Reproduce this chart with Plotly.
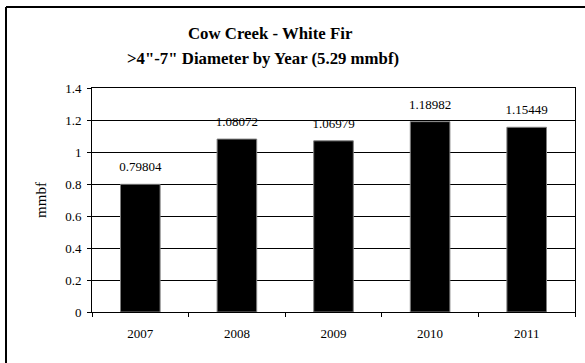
import plotly.graph_objects as go

years = ["2007", "2008", "2009", "2010", "2011"]
values = [0.79804, 1.08072, 1.06979, 1.18982, 1.15449]
labels = ["0.79804", "1.08072", "1.06979", "1.18982", "1.15449"]
y_ticks = [0, 0.2, 0.4, 0.6, 0.8, 1, 1.2, 1.4]
y_ticklabels = ["0", "0.2", "0.4", "0.6", "0.8", "1", "1.2", "1.4"]
title_lines = ["Cow Creek - White Fir", ">4\"-7\" Diameter by Year (5.29 mmbf)"]

W, H = 585, 363
L, R, T, B = 92, 10, 88, 51
pw = W - L - R
ph = H - T - B

serif = "Liberation Serif"

fig = go.Figure()
fig.add_trace(go.Bar(
    x=years, y=values,
    marker=dict(color="black", line=dict(color="#808080", width=1)),
    width=0.41, hoverinfo="skip",
))
fig.add_trace(go.Scatter(
    x=years, y=values, text=labels, mode="markers+text",
    textposition="top center",
    marker=dict(size=14, opacity=0),
    textfont=dict(family=serif, size=13, color="black"),
    cliponaxis=False, hoverinfo="skip",
))

title_pos = [(270, 33), (263, 58)]
annotations = [
    dict(text="<b>" + t.replace(">", "&gt;") + "</b>", xref="paper", yref="paper",
         x=(px - L) / pw, y=(H - B - py) / ph, xanchor="center", yanchor="middle",
         showarrow=False, font=dict(family=serif, size=16.8, color="black"))
    for t, (px, py) in zip(title_lines, title_pos)
]

fig.update_layout(
    width=W, height=H,
    margin=dict(l=L, r=R, t=T, b=B, autoexpand=False),
    paper_bgcolor="white", plot_bgcolor="white",
    showlegend=False,
    font=dict(family=serif, color="black"),
    annotations=annotations,
    xaxis=dict(
        type="category", showline=True, linecolor="black", linewidth=1, mirror=True,
        ticks="outside", tickson="boundaries", ticklen=4, tickcolor="black",
        tickfont=dict(family=serif, size=13, color="black"),
        ticklabelstandoff=9, tickangle=0,
        showgrid=False,
    ),
    yaxis=dict(
        range=[0, 1.4], tickvals=y_ticks, ticktext=y_ticklabels,
        showline=True, linecolor="black", linewidth=1, mirror=True,
        ticks="outside", ticklen=4, tickcolor="black",
        tickfont=dict(family=serif, size=13, color="black"),
        ticklabelstandoff=3,
        showgrid=True, gridcolor="black", gridwidth=1,
        zeroline=False,
        title=dict(text="mmbf", font=dict(family=serif, size=15, color="black"), standoff=14),
    ),
    shapes=[
        dict(type="line", xref="paper", yref="paper",
             x0=(6 - L) / pw, x1=(W - L) / pw, y0=1 + (T - 7) / ph, y1=1 + (T - 7) / ph,
             line=dict(color="black", width=2), layer="below"),
        dict(type="line", xref="paper", yref="paper",
             x0=(6 - L) / pw, x1=(6 - L) / pw, y0=-B / ph, y1=1 + (T - 7) / ph,
             line=dict(color="black", width=2), layer="below"),
    ],
)

fig.write_html(
    "out.html", config={"displayModeBar": False},
    post_script=["document.body.style.margin='0';"
                 "document.body.style.overflow='hidden';"
                 "document.documentElement.style.overflow='hidden';"],
)
